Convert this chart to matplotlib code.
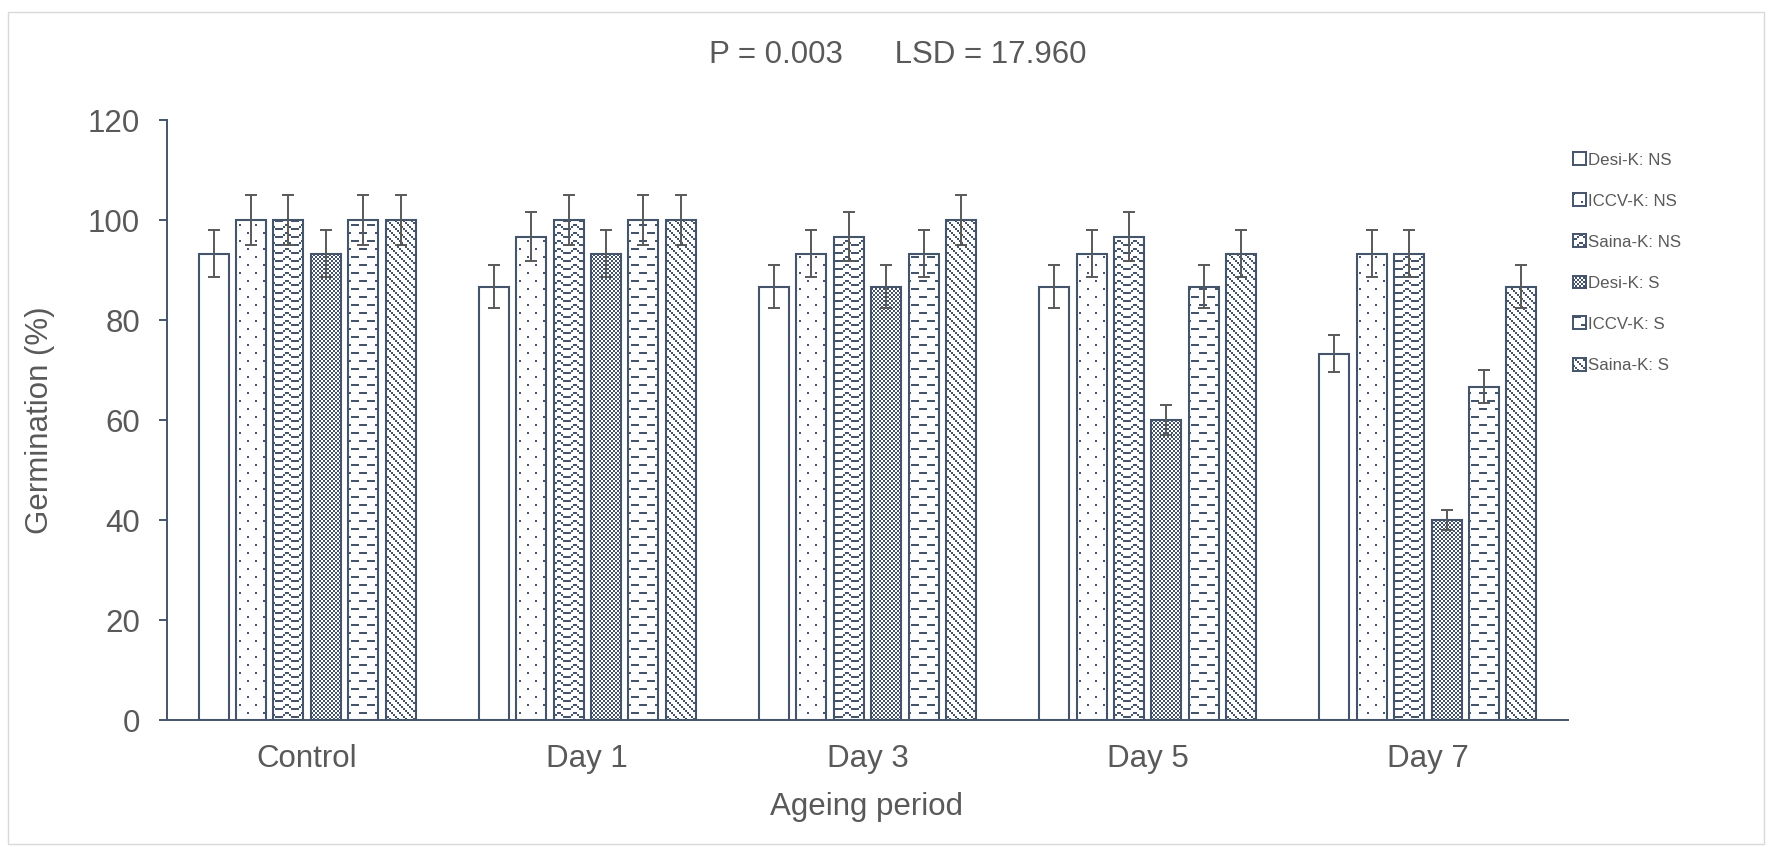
import numpy as np
import matplotlib
matplotlib.use("Agg")
import matplotlib.pyplot as plt
from matplotlib.patches import Rectangle

# ---- data -------------------------------------------------------------
groups = ["Control", "Day 1", "Day 3", "Day 5", "Day 7"]
series_names = ["Desi-K: NS", "ICCV-K: NS", "Saina-K: NS",
                "Desi-K: S", "ICCV-K: S", "Saina-K: S"]

desi_ns = [93.3, 86.7, 86.7, 86.7, 73.3]
iccv_ns = [100.0, 96.7, 93.3, 93.3, 93.3]
saina_ns = [100.0, 100.0, 96.7, 96.7, 93.3]
desi_s = [93.3, 93.3, 86.7, 60.0, 40.0]
iccv_s = [100.0, 100.0, 93.3, 86.7, 66.7]
saina_s = [100.0, 100.0, 100.0, 93.3, 86.7]

err_desi_ns = [4.67, 4.33, 4.33, 4.33, 3.67]
err_iccv_ns = [5.0, 4.83, 4.67, 4.67, 4.67]
err_saina_ns = [5.0, 5.0, 4.83, 4.83, 4.67]
err_desi_s = [4.67, 4.67, 4.33, 3.0, 2.0]
err_iccv_s = [5.0, 5.0, 4.67, 4.33, 3.33]
err_saina_s = [5.0, 5.0, 5.0, 4.67, 4.33]

yticks = [0, 20, 40, 60, 80, 100, 120]
title_text = "P = 0.003      LSD = 17.960"
xlabel_text = "Ageing period"
ylabel_text = "Germination (%)"

values = [desi_ns, iccv_ns, saina_ns, desi_s, iccv_s, saina_s]
errors = [err_desi_ns, err_iccv_ns, err_saina_ns, err_desi_s, err_iccv_s, err_saina_s]

# ---- style ------------------------------------------------------------
INK = "#44546A"
TEXT = "#595959"
INK_RGB = np.array([0x44, 0x54, 0x6A]) / 255.0
plt.rcParams["font.family"] = ["Liberation Sans", "DejaVu Sans"]

W, H, DPI = 1771, 847, 100
fig = plt.figure(figsize=(W / DPI, H / DPI), dpi=DPI, facecolor="white")

AX_L, AX_R, AX_T, AX_B = 167, 1568, 120, 720
ax = fig.add_axes([AX_L / W, 1 - AX_B / H, (AX_R - AX_L) / W, (AX_B - AX_T) / H])
XLIM = (-0.5, len(groups) - 0.5)
YLIM = (0, 120)


# ---- pixel fill patterns --------------------------------------------
def tile_dots():
    t = np.zeros((16, 16), bool)
    t[0:2, 0:2] = True
    t[8:10, 8:10] = True
    return t


def tile_wave():
    t = np.zeros((8, 16), bool)
    rows = [4, 4, 2, 0, 0, 2, 4, 4]
    for b, r in enumerate(rows):
        t[r:r + 2, 2 * b:2 * b + 2] = True
    return t


def tile_checker():
    yy, xx = np.mgrid[0:4, 0:4]
    return ((xx // 2 + yy // 2) % 2) == 0


def tile_dashes():
    t = np.zeros((16, 16), bool)
    t[0:2, 0:8] = True
    t[8:10, 8:16] = True
    return t


def tile_diag():
    yy, xx = np.mgrid[0:8, 0:8]
    return ((xx // 2 - yy // 2) % 4) == 0


tiles = [None, tile_dots(), tile_wave(), tile_checker(), tile_dashes(), tile_diag()]


def texture(tile, h, w):
    th, tw = tile.shape
    mask = np.tile(tile, (h // th + 1, w // tw + 1))[:h, :w]
    img = np.where(mask[..., None], INK_RGB, 1.0)
    return img


ax_w = int(round(ax.bbox.width))
ax_h = int(round(ax.bbox.height))

# ---- bars ---------------------------------------------------------------
n = len(series_names)
x = np.arange(len(groups))
width = 0.107
step = 0.1335

for i, (vals, errs, tile) in enumerate(zip(values, errors, tiles)):
    pos = x + (i - (n - 1) / 2) * step
    bars = ax.bar(pos, vals, width, color="white", edgecolor="none", zorder=2)
    if tile is not None:
        tex = texture(tile, ax_h, ax_w)
        for rect in bars:
            im = ax.imshow(tex, extent=(XLIM[0], XLIM[1], YLIM[0], YLIM[1]),
                           aspect="auto", interpolation="nearest",
                           origin="upper", zorder=2.2)
            im.set_clip_path(rect)
    ax.bar(pos, vals, width, facecolor="none", edgecolor=INK,
           linewidth=1.5, zorder=2.5)
    ax.errorbar(pos, vals, yerr=errs, fmt="none", ecolor=TEXT,
                elinewidth=1.4, capsize=4.3, capthick=1.4, zorder=3)

ax.set_xlim(*XLIM)
ax.set_ylim(*YLIM)

# ---- axes ---------------------------------------------------------------
for side in ("top", "right"):
    ax.spines[side].set_visible(False)
for side in ("left", "bottom"):
    ax.spines[side].set_color(INK)
    ax.spines[side].set_linewidth(1.4)

ax.set_yticks(yticks)
ax.set_yticklabels([str(v) for v in yticks])
ax.set_xticks(x)
ax.set_xticklabels(groups)
ax.tick_params(axis="y", length=5.8, width=1.4, color=INK,
               labelcolor=TEXT, labelsize=22.5, pad=13.5)
ax.tick_params(axis="x", length=0, labelcolor=TEXT, labelsize=22.5, pad=17)

fig.text(898 / W, 1 - 55 / H, title_text, ha="center", va="center",
         fontsize=22.5, color=TEXT)
fig.text(867 / W, 1 - 807 / H, xlabel_text, ha="center", va="center",
         fontsize=22.5, color=TEXT)
fig.text(40 / W, 1 - 420 / H, ylabel_text, ha="center", va="center",
         rotation=90, fontsize=22.5, color=TEXT)

# ---- legend ---------------------------------------------------------------
SQ = 13
for k, (name, tile) in enumerate(zip(series_names, tiles)):
    cy = 159 + 41 * k
    lax = fig.add_axes([1573 / W, 1 - (cy + SQ / 2) / H, SQ / W, SQ / H])
    if tile is not None:
        lax.imshow(texture(tile, SQ, SQ), aspect="auto", interpolation="nearest")
    lax.set_xticks([])
    lax.set_yticks([])
    for sp in lax.spines.values():
        sp.set_color(INK)
        sp.set_linewidth(1.4)
    fig.text(1588 / W, 1 - cy / H, name, ha="left", va="center_baseline",
             fontsize=12.2, color=TEXT)

# ---- outer frame ----------------------------------------------------------
fig.patches.append(Rectangle((8 / W, 1 - 844 / H), (1764 - 8) / W, (844 - 12) / H,
                             transform=fig.transFigure, fill=False,
                             edgecolor="#D9D9D9", linewidth=1.0))

fig.savefig("out.png", dpi=DPI, facecolor="white")
